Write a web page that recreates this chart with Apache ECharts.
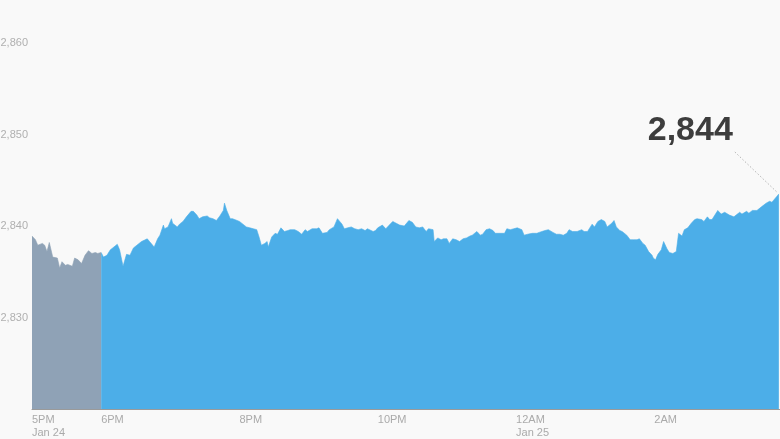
<!DOCTYPE html>
<html>
<head>
<meta charset="utf-8">
<script src="https://cdn.jsdelivr.net/npm/echarts@6/dist/echarts.min.js"></script>
<style>
html,body{margin:0;padding:0;background:#f9f9f9;}
#c{width:780px;height:439px;}
</style>
</head>
<body>
<div id="c"></div>
<script>
// minutes after 5PM (Jan 24)
var times = [0,3,5,9,11,13,15,16,18,22,24,26,29,31,35,37,40,43,46,49,52,55,57,60,
62,65,68,70,74,76,79,82,85,88,91,95,100,102,106,109,111,114,115,118,121,122,126,128,131,134,138,140,143,145,148,152,154,157,160,163,166,167,169,172,174,178,180,183,186,189,192,195,197,199,202,204,205,208,211,213,216,219,222,
224,228,231,234,237,239,243,247,249,252,256,258,262,264,265,269,271,274,277,280,283,286,289,291,296,298,300,304,307,310,313,316,319,323,327,330,333,336,
339,342,344,348,349,352,355,357,360,362,365,368,371,374,377,380,382,386,389,391,394,397,400,402,406,410,412,415,418,421,425,427,430,434,438,440,445,448,
452,455,458,461,464,466,469,473,477,479,482,486,488,491,494,497,499,503,505,507,510,512,516,519,522,525,527,530,532,535,538,539,541,543,546,548,551,553,556,559,561,
564,566,569,572,575,577,581,583,586,588,590,595,598,601,605,609,614,616,620,622,625,629,631,634,637,640,642,646,648];
var values = [2838.9,2838.5,2837.9,2838.1,2837.9,2837.2,2838.2,2838.1,2836.6,2836.5,2835.4,2836.1,2835.7,2835.8,2835.6,2836.5,2836.3,2835.9,2836.8,2837.3,2837.0,2837.1,2837.0,2837.1,
2836.6,2836.8,2837.4,2837.6,2838.0,2837.4,2835.6,2836.9,2836.8,2837.6,2837.9,2838.3,2838.6,2838.3,2837.7,2838.6,2839.0,2840.1,2839.7,2839.9,2840.8,2840.3,2839.9,2840.2,2840.5,2841.0,2841.6,2841.6,2841.2,2840.8,2841.0,2841.1,2840.9,2840.8,2840.6,2841.1,2841.7,2842.5,2841.7,2840.8,2840.8,2840.6,2840.5,2840.2,2839.9,2839.8,2839.7,2839.6,2838.8,2837.9,2838.1,2838.3,2837.7,2838.8,2839.2,2839.1,2839.8,2839.4,2839.5,
2839.6,2839.6,2839.4,2839.1,2839.6,2839.4,2839.7,2839.7,2839.8,2839.2,2839.3,2839.6,2839.9,2840.5,2840.8,2840.2,2839.7,2839.8,2839.9,2839.7,2839.6,2839.7,2839.5,2839.7,2839.4,2839.5,2839.8,2840.1,2839.7,2840.1,2840.5,2840.3,2840.1,2840.0,2840.6,2840.4,2839.9,2839.8,
2839.9,2839.4,2839.7,2839.6,2838.3,2838.7,2838.5,2838.6,2838.6,2838.1,2838.6,2838.5,2838.3,2838.6,2838.7,2838.9,2839.0,2839.4,2839.0,2839.1,2839.6,2839.7,2839.5,2839.2,2839.2,2839.2,2839.7,2839.6,2839.7,2839.8,2839.6,2839.0,2839.1,2839.2,2839.2,2839.3,2839.5,2839.6,
2839.3,2839.1,2839.1,2839.0,2839.2,2839.6,2839.4,2839.4,2839.6,2839.4,2839.4,2840.2,2839.9,2840.5,2840.7,2840.5,2839.9,2840.3,2840.6,2839.9,2839.5,2839.4,2839.0,2838.5,2838.5,2838.5,2838.6,2838.1,2837.9,2837.2,2836.8,2836.5,2836.3,2836.9,2837.4,2838.3,2837.5,2837.1,2837.0,2837.2,2839.2,
2838.9,2839.6,2839.8,2840.3,2840.7,2840.8,2840.7,2840.5,2841.0,2840.7,2840.7,2841.7,2841.3,2841.5,2841.2,2841.0,2841.5,2841.3,2841.6,2841.4,2841.7,2841.7,2841.9,2842.2,2842.5,2842.7,2842.6,2843.2,2843.5];
var afterHoursEnd = 60; // 6PM
var lastLabel = '2,844';
var tickMinutes = [0,60,180,300,420,540];
var tickLabels = ['5PM\nJan 24','6PM','8PM','10PM','12AM\nJan 25','2AM'];
var yMin = 2820, yMax = 2860, yStep = 10;
var xMax = 649;

var grayData = [], blueData = [];
for (var i = 0; i < times.length; i++) {
  if (times[i] <= afterHoursEnd) grayData.push([times[i], values[i]]);
  if (times[i] >= afterHoursEnd) blueData.push([times[i], values[i]]);
}

var chart = echarts.init(document.getElementById('c'), null, {renderer:'canvas'});
var option = {
  backgroundColor: '#f9f9f9',
  animation: false,
  grid: {left: 32, right: 0, top: 43, bottom: 30, containLabel: false, outerBoundsMode: 'none'},
  xAxis: {
    type: 'value', min: 0, max: xMax, interval: 60,
    axisLine: {show: true, lineStyle: {color: '#9a9a9a', width: 1}},
    axisTick: {show: false},
    splitLine: {show: false},
    axisLabel: {
      color: '#aaaaaa', fontSize: 11, fontFamily: 'Liberation Sans, Arial, sans-serif',
      align: 'left', margin: 4, lineHeight: 13, showMaxLabel: false,
      formatter: function (v) {
        var k = tickMinutes.indexOf(v);
        return k >= 0 ? tickLabels[k] : '';
      }
    }
  },
  yAxis: {
    type: 'value', min: yMin, max: yMax, interval: yStep,
    axisLine: {show: false}, axisTick: {show: false}, splitLine: {show: false},
    axisLabel: {
      color: '#b0b0b0', fontSize: 11, fontFamily: 'Liberation Sans, Arial, sans-serif',
      margin: 4, showMinLabel: false,
      formatter: function (v) { return echarts.format.addCommas(v); }
    }
  },
  series: [
    {type: 'line', data: grayData, showSymbol: false, symbol: 'none',
     lineStyle: {width: 0.6, color: '#8fa2b6'},
     areaStyle: {color: '#8fa2b6', opacity: 1, origin: 'start'}},
    {type: 'line', data: blueData, showSymbol: false, symbol: 'none',
     lineStyle: {width: 0.6, color: '#4caee8'},
     areaStyle: {color: '#4caee8', opacity: 1, origin: 'start'}}
  ]
};
chart.setOption(option);

var lastPt = chart.convertToPixel({gridIndex: 0}, [times[times.length-1], values[values.length-1]]);
chart.setOption({
  graphic: [
    {type: 'line', silent: true,
     shape: {x1: lastPt[0] - 44, y1: lastPt[1] - 42, x2: lastPt[0] - 1, y2: lastPt[1] - 1},
     style: {stroke: '#b5b5b5', lineWidth: 1, lineDash: [1.5, 2]}},
    {type: 'text', silent: true,
     x: lastPt[0] - 46, y: lastPt[1] - 46,
     style: {text: lastLabel, fill: '#3d3d3d', font: 'bold 34px "Liberation Sans", Arial, sans-serif',
             textAlign: 'right', textVerticalAlign: 'bottom'}}
  ]
});
</script>
</body>
</html>
